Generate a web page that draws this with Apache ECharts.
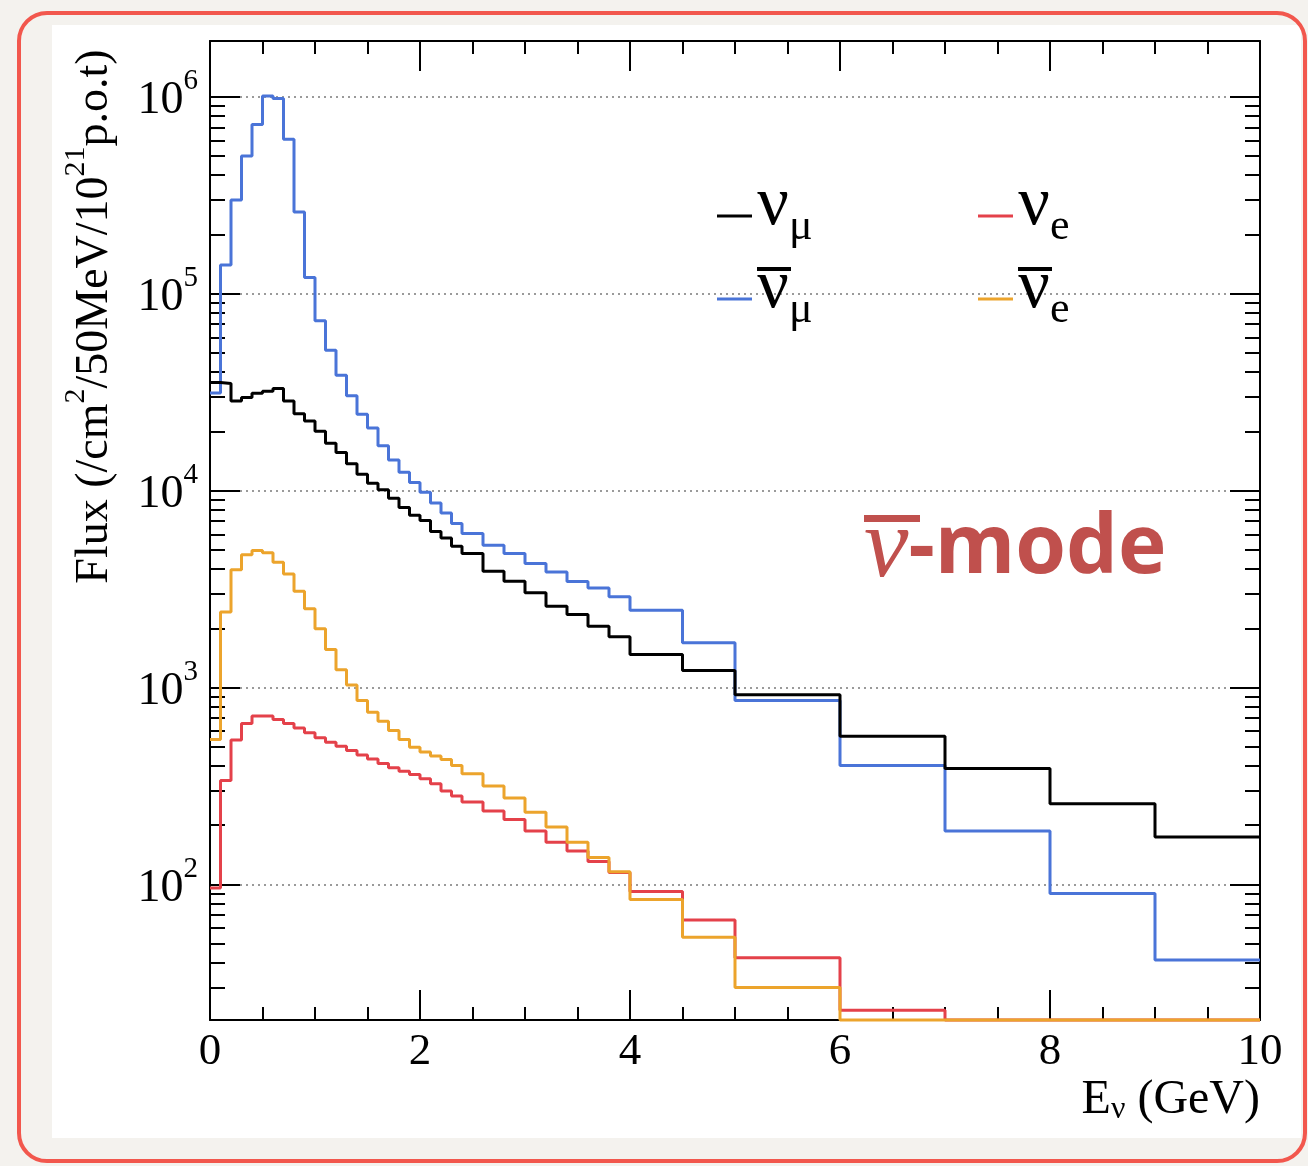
<!DOCTYPE html>
<html>
<head>
<meta charset="utf-8">
<script src="https://cdn.jsdelivr.net/npm/echarts@6/dist/echarts.min.js"></script>
<style>
  html, body { margin:0; padding:0; width:1308px; height:1166px; background:#f4f2ee; overflow:hidden; }
  #paper { position:absolute; left:52px; top:25px; width:1249px; height:1113px; background:#ffffff; }
  #frame { position:absolute; left:17px; top:11px; width:1290px; height:1152px; box-sizing:border-box;
           border:4px solid #f2574d; border-radius:30px; }
  #chart { position:absolute; left:0; top:0; width:1308px; height:1166px; }
</style>
</head>
<body>
<div id="paper"></div>
<div id="frame"></div>
<div id="chart"></div>
<script>
// ---- data ----
// histogram bin edges in GeV
const edges = [0, 0.1, 0.2, 0.3, 0.4, 0.5, 0.6, 0.7, 0.8, 0.9, 1.0, 1.1, 1.2, 1.3, 1.4, 1.5, 1.6, 1.7, 1.8, 1.9,
               2.0, 2.1, 2.2, 2.3, 2.4, 2.6, 2.8, 3.0, 3.2, 3.4, 3.6, 3.8, 4.0, 4.5, 5, 6, 7, 8, 9, 10];
// nu_mu (black)
const numu = [35400, 35000, 28500, 29700, 31200, 32000, 33000, 28500, 24600, 22600, 20000, 17400, 15600, 13700,
              12100, 10900, 10100, 9140, 8200, 7500, 7050, 6200, 5750, 5220,
              4790, 3900, 3470, 3030, 2590, 2350, 2050, 1810,
              1470, 1220, 920, 566, 388, 257, 174];
// anti nu_mu (blue)
const numubar = [31300, 140000, 299000, 500000, 724000, 1010000, 980000, 608000, 260000, 121000, 72800, 51700,
                 38500, 30300, 24400, 20800, 16900, 14300, 12400, 11000, 9800, 8660, 7700, 6800,
                 6050, 5280, 4790, 4260, 3860, 3460, 3200, 2890,
                 2470, 1690, 860, 402, 187, 90, 41.3];
// nu_e (red)
const nue = [96, 337, 541, 657, 716, 716, 689, 657, 624, 589, 556, 528, 504, 479, 455, 434, 411, 391, 376, 362,
             344, 325, 298, 281,
             262, 236, 214, 187, 164, 148, 131, 115,
             92, 66, 42.5, 23, 20.5, 20.5, 20.5];
// anti nu_e (orange)
const nuebar = [545, 2420, 3970, 4730, 4960, 4830, 4330, 3770, 3080, 2510, 1990, 1560, 1230, 1030, 860, 750,
                675, 605, 545, 498, 470, 449, 431, 402,
                365, 316, 275, 233, 196, 164, 137, 116,
                84, 54, 30, 20.5, 20.5, 20.5, 20.5];
// axis ranges and tick labels
const xTicks = [0, 2, 4, 6, 8, 10];
const yDecades = [2, 3, 4, 5, 6];
const yMin = 20.5, yMax = 1.92e6;

// ---- helpers ----
function histPoints(vals) {
  const pts = vals.map((v, i) => [edges[i], v]);
  pts.push([edges[vals.length], vals[vals.length - 1]]);
  return pts;
}
const L10 = Math.log10;
const minorLog = [];
for (let n = 1; n <= 6; n++) for (let k = 2; k <= 9; k++) {
  const v = L10(k) + n;
  if (v > L10(yMin) && v < L10(yMax)) minorLog.push(v);
}

const SERIF = 'Liberation Serif';
const BLACK = '#000000', BLUE = '#4a74d8', RED = '#e4414a', ORANGE = '#eca42c';

const tickStyle = { color: '#000', width: 2 };
function helperY(pos, values, len, showLine) {
  return {
    type: 'value', position: pos, min: L10(yMin), max: L10(yMax),
    axisLine: { show: showLine, lineStyle: { color: '#000', width: 2 } },
    axisTick: { show: true, inside: true, length: len, customValues: values, lineStyle: tickStyle },
    axisLabel: { show: false }, splitLine: { show: false }
  };
}

const legRich = {
  bar:   { width: 34, height: 4, lineHeight: 12, verticalAlign: 'top', backgroundColor: '#000' },
  nobar: { width: 34, height: 4, lineHeight: 12, verticalAlign: 'top' },
  h: { fontSize: 1, height: 1, lineHeight: 52, verticalAlign: 'top' },
  n: { fontSize: 70, height: 20, lineHeight: 20, verticalAlign: 'top', fontFamily: SERIF, color: '#000' },
  s: { fontSize: 44, height: 63, lineHeight: 20, verticalAlign: 'top', fontFamily: SERIF, color: '#000' }
};
const legText = {
  numu:    '{nobar| }\n{h| }{n|ν}{s|μ}',
  nue:     '{nobar| }\n{h| }{n|ν}{s|e}',
  numubar: '{bar| }\n{h| }{n|ν}{s|μ}',
  nuebar:  '{bar| }\n{h| }{n|ν}{s|e}'
};
function legendFor(name, left, top) {
  return {
    data: [name], left: left, top: top, padding: 0, itemWidth: 35, itemHeight: 3, itemGap: 0,
    icon: 'rect', selectedMode: false, formatter: n => legText[n],
    itemStyle: { borderWidth: 0 },
    textStyle: { color: '#000', fontFamily: SERIF, rich: legRich }
  };
}

function seriesFor(name, vals, color, z) {
  return {
    name: name, type: 'line', step: 'end', data: histPoints(vals), symbol: 'none', showSymbol: false,
    clip: false, z: z, xAxisIndex: 0, yAxisIndex: 0,
    lineStyle: { width: 3, color: color }, itemStyle: { color: color }, emphasis: { disabled: true }
  };
}

const chart = echarts.init(document.getElementById('chart'), null, { renderer: 'canvas' });
chart.setOption({
  backgroundColor: 'transparent',
  animation: false,
  grid: { left: 210, right: 48, top: 41, bottom: 146, containLabel: false, outerBoundsMode: 'none' },
  xAxis: [
    {
      type: 'value', position: 'bottom', min: 0, max: 10, interval: 2,
      axisLine: { show: true, lineStyle: { color: '#000', width: 2 } },
      axisTick: { show: true, inside: true, length: 30, lineStyle: tickStyle },
      minorTick: { show: true, splitNumber: 4, length: 13, lineStyle: tickStyle },
      splitLine: { show: false }, minorSplitLine: { show: false },
      axisLabel: { show: true, margin: 10, fontSize: 45, fontFamily: SERIF, color: '#000',
                   customValues: xTicks, formatter: v => String(v) },
      name: '{t|E}{s|ν}{t| (GeV)}', nameLocation: 'end', nameGap: 0, nameMoveOverlap: false,
      nameTextStyle: {
        align: 'right', verticalAlign: 'top', padding: [56, 0, 0, 0],
        rich: {
          t: { fontSize: 48, lineHeight: 50, verticalAlign: 'top', fontFamily: SERIF, color: '#000' },
          s: { fontSize: 32, lineHeight: 18, verticalAlign: 'bottom', fontFamily: SERIF, color: '#000' }
        }
      }
    },
    {
      type: 'value', position: 'top', min: 0, max: 10, interval: 2,
      axisLine: { show: true, lineStyle: { color: '#000', width: 2 } },
      axisTick: { show: true, inside: true, length: 30, lineStyle: tickStyle },
      minorTick: { show: true, splitNumber: 4, length: 13, lineStyle: tickStyle },
      splitLine: { show: false }, axisLabel: { show: false }
    }
  ],
  yAxis: [
    {
      type: 'log', logBase: 10, position: 'left', min: yMin, max: yMax,
      axisLine: { show: true, lineStyle: { color: '#000', width: 2 } },
      axisTick: { show: false },
      splitLine: { show: true, lineStyle: { color: '#7a7a7a', width: 1.5, type: [2, 4] } },
      axisLabel: {
        show: true, margin: 12, showMinLabel: false, showMaxLabel: false, padding: [8, 0, 0, 0],
        formatter: function (v) {
          const e = v > 50 ? Math.round(L10(v)) : Math.round(v);
          return '{b|10}{e|' + e + '}';
        },
        rich: {
          b: { fontSize: 46, lineHeight: 50, verticalAlign: 'middle', fontFamily: SERIF, color: '#000' },
          e: { fontSize: 29, height: 12, lineHeight: 20, verticalAlign: 'top', fontFamily: SERIF, color: '#000' }
        }
      },
      name: '{t|Flux (/cm}{p|2}{t|/50MeV/10}{p|21}{t|p.o.t)}',
      nameLocation: 'middle', nameGap: 88, nameRotate: 90, nameMoveOverlap: false,
      nameTextStyle: {
        padding: [0, 0, 0, 428],
        rich: {
          t: { fontSize: 46, lineHeight: 50, verticalAlign: 'top', fontFamily: SERIF, color: '#000' },
          p: { fontSize: 30, height: 8, lineHeight: 14, verticalAlign: 'top', fontFamily: SERIF, color: '#000' }
        }
      }
    },
    helperY('left', yDecades, 30, false),
    helperY('left', minorLog, 15, false),
    helperY('right', yDecades, 30, true),
    helperY('right', minorLog, 15, false)
  ],
  legend: [
    legendFor('numu', 717, 171),
    legendFor('numubar', 717, 254),
    legendFor('nue', 978, 171),
    legendFor('nuebar', 978, 254)
  ],
  graphic: [{
    type: 'text', left: 864, top: 500, z: 100,
    style: {
      text: '{bar| }\n{n|ν}{m|-mode}',
      rich: {
        bar: { width: 56, height: 7, lineHeight: 10, verticalAlign: 'top', backgroundColor: '#c0504d' },
        n: { fontFamily: SERIF, fontStyle: 'italic', fontSize: 100, lineHeight: 50, verticalAlign: 'middle', fill: '#c0504d' },
        m: { fontFamily: 'Open Sans', fontWeight: 'bold', fontSize: 82, lineHeight: 50, verticalAlign: 'middle', fill: '#c0504d' }
      }
    }
  }],
  series: [
    seriesFor('numubar', numubar, BLUE, 2),
    seriesFor('numu', numu, BLACK, 3),
    seriesFor('nue', nue, RED, 4),
    seriesFor('nuebar', nuebar, ORANGE, 5)
  ]
});
</script>
</body>
</html>
